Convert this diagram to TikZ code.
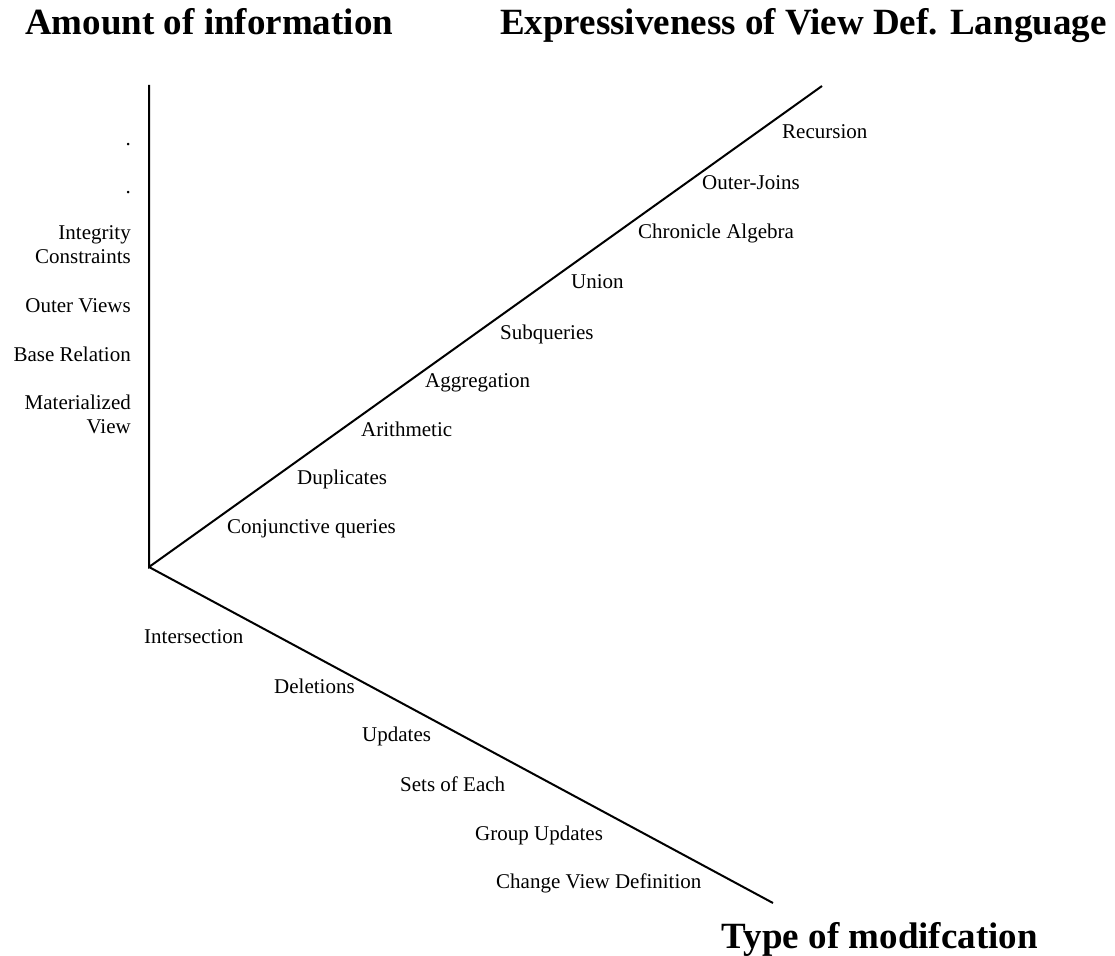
\documentclass[tikz,border=0pt]{standalone}
\usepackage{fontspec}
\setmainfont{Liberation Serif}
\begin{document}
\begin{tikzpicture}[x=1pt,y=-1pt,
  axis/.style={line width=2pt},
  lbl/.style={inner sep=0pt, font=\fontsize{21}{24}\selectfont},
  lblr/.style={lbl, anchor=base east, align=right},
  lbll/.style={lbl, anchor=base west},
  ttl/.style={inner sep=0pt, font=\fontsize{37}{40}\selectfont\bfseries}]
\useasboundingbox (0,0) rectangle (1115,955);

% axis end points
\coordinate (O) at (149,567);
\coordinate (ytop) at (149,85);
\coordinate (xend) at (822,86);
\coordinate (zend) at (773,903);

\draw[axis] (ytop) -- (O) -- (xend);
\draw[axis] (O) -- (zend);

% axis titles
\node[ttl, anchor=base west] (tinfo) at (25,35) {Amount of information};
\node[ttl, anchor=base west] (texpr) at (500,35) {Expressiveness of View Def. Language};
\node[ttl, anchor=base east] (tmod) at (1038,948) {Type of modifcation};

% vertical axis: amount of information (base = last line)
\node[lblr] (d1) at (131,145) {.};
\node[lblr] (d2) at (131,193) {.};
\node[lblr] (ic) at (131,263) {Integrity\\Constraints};
\node[lblr] (ov) at (131,312) {Outer Views};
\node[lblr] (br) at (131,361) {Base Relation};
\node[lblr] (mv) at (131,433) {Materialized\\View};

% upper diagonal: view definition language
\node[lbll] (cq) at (227,533) {Conjunctive queries};
\node[lbll] (du) at (297,484) {Duplicates};
\node[lbll] (ar) at (361,436) {Arithmetic};
\node[lbll] (ag) at (425,387) {Aggregation};
\node[lbll] (sq) at (500,339) {Subqueries};
\node[lbll] (un) at (571,288) {Union};
\node[lbll] (ca) at (638,238) {Chronicle Algebra};
\node[lbll] (oj) at (702,189) {Outer-Joins};
\node[lbll] (re) at (782,139) {Recursion};

% lower diagonal: type of modification
\node[lbll] (is) at (144,643) {Intersection};
\node[lbll] (de) at (274,693) {Deletions};
\node[lbll] (up) at (362,741) {Updates};
\node[lbll] (se) at (400,791) {Sets of Each};
\node[lbll] (gu) at (475,840) {Group Updates};
\node[lbll] (cv) at (496,888) {Change View Definition};
\end{tikzpicture}
\end{document}
